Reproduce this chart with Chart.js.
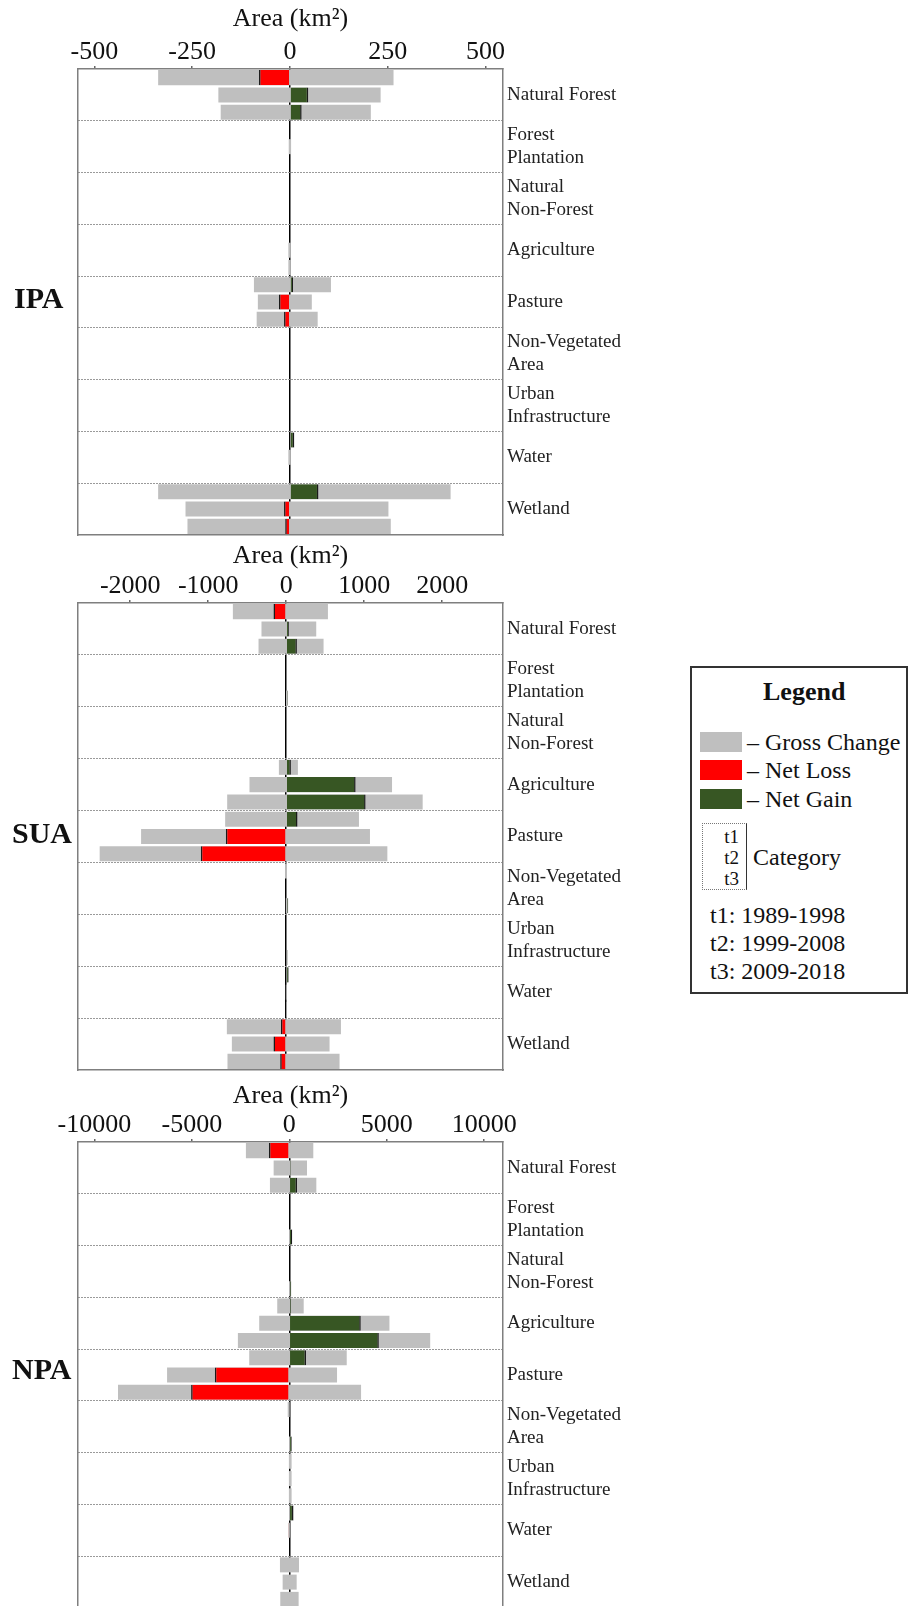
<!DOCTYPE html>
<html>
<head>
<meta charset="utf-8">
<script src="https://cdn.jsdelivr.net/npm/chart.js@4.4.1/dist/chart.umd.min.js"></script>
<style>
  html, body { margin: 0; padding: 0; background: #fff; }
  body { width: 909px; height: 1606px; position: relative; overflow: hidden;
         font-family: "Liberation Serif", "Times New Roman", serif; color: #111; }
  .panel { position: absolute; left: 0; width: 660px; }
  .zone { position: absolute; font-weight: bold; font-size: 30px; line-height: 36px; }
  #legend { position: absolute; left: 690px; top: 666px; width: 218px; height: 328px;
            border: 2px solid #333; box-sizing: border-box; }
  #legend div { position: absolute; white-space: nowrap; font-size: 24px; line-height: 28px; }
  #legend .sw { width: 42px; height: 20px; }
  #legend .tt { font-size: 19px; line-height: 22px; text-align: right; width: 30px; }
</style>
</head>
<body>

<div class="panel" style="top:0px;height:540px"><canvas id="ipa"></canvas></div>
<div class="panel" style="top:534px;height:541px"><canvas id="sua"></canvas></div>
<div class="panel" style="top:1073px;height:540px"><canvas id="npa"></canvas></div>

<div class="zone" style="left:14px;top:280px">IPA</div>
<div class="zone" style="left:12px;top:815px">SUA</div>
<div class="zone" style="left:12px;top:1351px">NPA</div>

<div id="legend">
  <div style="left:71px;top:8px;font-weight:bold;font-size:26px;line-height:32px">Legend</div>
  <div class="sw" style="left:8px;top:64px;background:#bfbfbf"></div>
  <div class="sw" style="left:8px;top:92px;background:#ff0000"></div>
  <div class="sw" style="left:8px;top:121px;background:#375623"></div>
  <div style="left:55px;top:60px">– Gross Change</div>
  <div style="left:55px;top:88px">– Net Loss</div>
  <div style="left:55px;top:117px">– Net Gain</div>
  <div style="left:10px;top:155px;width:45px;height:67px;border:1px dotted #777;border-right:1px solid #333;box-sizing:border-box"></div>
  <div class="tt" style="left:17px;top:158px">t1</div>
  <div class="tt" style="left:17px;top:179px">t2</div>
  <div class="tt" style="left:17px;top:200px">t3</div>
  <div style="left:61px;top:175px">Category</div>
  <div style="left:18px;top:233px">t1: 1989-1998</div>
  <div style="left:18px;top:261px">t2: 1999-2008</div>
  <div style="left:18px;top:289px">t3: 2009-2018</div>
</div>

<script>
// land cover classes, top to bottom
const categories = ["Natural Forest", "Forest Plantation", "Natural Non-Forest", "Agriculture",
  "Pasture", "Non-Vegetated Area", "Urban Infrastructure", "Water", "Wetland"];
const categoryLabels = [["Natural Forest"], ["Forest", "Plantation"], ["Natural", "Non-Forest"],
  ["Agriculture"], ["Pasture"], ["Non-Vegetated", "Area"], ["Urban", "Infrastructure"], ["Water"], ["Wetland"]];
const periods = ["t1", "t2", "t3"];

// values in km2, one row per class: t1, t2, t3
const ipaGrossLoss = [
  337, 183, 177,
  0, 3, 0,
  0, 0, 0,
  0, 4, 4,
  92, 82, 85,
  0, 0, 0,
  0, 0, 0,
  0, 4, 0,
  337, 267, 262];
const ipaGrossGain = [
  265, 232, 207,
  0, 3, 0,
  0, 0, 0,
  0, 2, 2,
  105, 56, 71,
  0, 0, 0,
  0, 0, 0,
  11, 2, 0,
  411, 252, 258];
const ipaNet = [
  -79, 47, 30,
  null, null, null,
  null, null, null,
  null, null, null,
  8, -28, -15,
  null, null, null,
  null, null, null,
  11, null, null,
  73, -15, -12];

const suaGrossLoss = [
  684, 317, 355,
  0, 0, 3,
  0, 0, 0,
  94, 471, 757,
  783, 1861, 2392,
  15, 0, 5,
  0, 0, 0,
  0, 5, 3,
  761, 697, 753];
const suaGrossGain = [
  535, 385, 479,
  0, 0, 20,
  0, 0, 0,
  150, 1357, 1750,
  933, 1074, 1297,
  10, 0, 25,
  0, 0, 15,
  30, 5, 3,
  702, 556, 684];
const suaNet = [
  -163, 34, 137,
  null, null, 17,
  null, null, null,
  60, 890, 1018,
  145, -774, -1095,
  null, null, 20,
  null, null, 15,
  30, null, null,
  -68, -163, -77];

const npaGrossLoss = [
  2225, 802, 992,
  0, 0, 10,
  0, 0, 10,
  617, 1542, 2636,
  2055, 6270, 8787,
  80, 0, 10,
  20, 20, 20,
  10, 40, 0,
  478, 340, 462];
const npaGrossGain = [
  1233, 910, 1388,
  0, 0, 150,
  0, 0, 100,
  740, 5139, 7230,
  2948, 2451, 3684,
  20, 0, 140,
  120, 120, 120,
  220, 30, 0,
  498, 380, 480];
const npaNet = [
  -1043, 72, 396,
  null, null, 140,
  null, null, 90,
  87, 3668, 4594,
  858, -3818, -5036,
  null, null, 120,
  null, null, null,
  210, -20, null,
  null, 40, null];

// axis ticks and extent
const ipaTicks = [-500, -250, 0, 250, 500];
const suaTicks = [-2000, -1000, 0, 1000, 2000];
const npaTicks = [-10000, -5000, 0, 5000, 10000];
const ipaRange = [-542, 545];
const suaRange = [-2670, 2780];
const npaRange = [-10840, 10966];

Chart.defaults.font.family = "'Liberation Serif', 'Times New Roman', serif";
Chart.defaults.color = "#111";

const rowLabels = [];
categories.forEach(c => periods.forEach(p => rowLabels.push(c + " " + p)));

function makePanel(id, loss, gain, net, ticks, range, titlePad) {
  const gross = loss.map((l, i) => [-l, gain[i]]);
  new Chart(document.getElementById(id), {
    type: "bar",
    data: {
      labels: rowLabels,
      datasets: [
        {
          label: "Net",
          data: net,
          order: 1,
          backgroundColor: net.map(v => (v < 0 ? "#ff0000" : "#375623")),
          borderColor: "#1a1a1a",
          borderWidth: { left: 1.5, right: 1.5, top: 0, bottom: 0 },
          borderSkipped: "start"
        },
        {
          label: "Gross Change",
          data: gross,
          order: 2,
          backgroundColor: "#bfbfbf",
          borderWidth: 0
        }
      ]
    },
    options: {
      indexAxis: "y",
      responsive: true,
      maintainAspectRatio: false,
      animation: false,
      layout: { padding: { left: 78, right: 0, top: 0, bottom: 5 } },
      datasets: { bar: { grouped: false, categoryPercentage: 1, barPercentage: 0.87 } },
      plugins: { legend: { display: false }, tooltip: { enabled: false } },
      scales: {
        x: {
          type: "linear",
          position: "top",
          min: range[0],
          max: range[1],
          z: 1,
          afterBuildTicks: s => { s.ticks = ticks.map(v => ({ value: v })); },
          afterFit: s => { s.height = 69; },
          ticks: { callback: v => String(v), font: { size: 26, lineHeight: 1 }, color: "#111",
                   padding: 1, maxRotation: 0, autoSkip: false },
          grid: {
            drawOnChartArea: true,
            color: c => (c.tick && c.tick.value === 0 ? "#000" : "rgba(0,0,0,0)"),
            lineWidth: 1.5,
            tickLength: 3,
            tickColor: "#666",
            tickWidth: 1.5
          },
          border: { display: true, color: "#7f7f7f", width: 1.5 },
          title: { display: true, text: "Area (km²)", font: { size: 26 }, color: "#111",
                   padding: { top: titlePad, bottom: 0 } }
        },
        x2: {
          type: "linear",
          position: "bottom",
          min: range[0],
          max: range[1],
          afterFit: s => { s.height = 0; },
          ticks: { display: false },
          grid: { display: false },
          border: { display: true, color: "#7f7f7f", width: 1.5 }
        },
        y: {
          type: "category",
          position: "left",
          afterFit: s => { s.width = 0; },
          ticks: { display: false },
          grid: { display: false },
          border: { display: true, color: "#7f7f7f", width: 1.5 }
        },
        yc: {
          type: "category",
          position: "right",
          labels: categoryLabels,
          offset: true,
          afterFit: s => { s.width = 157; s.paddingTop = 0; s.paddingBottom = 0; },
          ticks: { font: { size: 19, lineHeight: 1.2 }, color: "#222", padding: 4, autoSkip: false },
          grid: {
            offset: true,
            drawTicks: false,
            color: c => (c.index > 0 && c.index < categories.length ? "#9a9a9a" : "rgba(0,0,0,0)"),
            lineWidth: 1
          },
          border: { display: true, color: "#7f7f7f", width: 1.5, dash: [2, 1] }
        }
      }
    }
  });
}

makePanel("ipa", ipaGrossLoss, ipaGrossGain, ipaNet, ipaTicks, ipaRange, 4);
makePanel("sua", suaGrossLoss, suaGrossGain, suaNet, suaTicks, suaRange, 7);
makePanel("npa", npaGrossLoss, npaGrossGain, npaNet, npaTicks, npaRange, 8);
</script>
</body>
</html>
